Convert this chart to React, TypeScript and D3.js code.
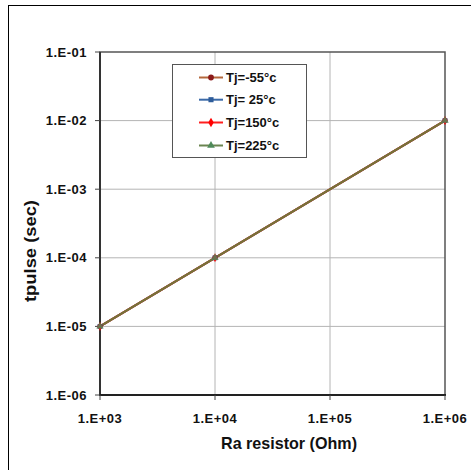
import React, { useRef, useEffect } from 'react';
import * as d3 from 'd3';

const resistance = [1e3, 1e4, 1e6];
const seriesNames = ['Tj=-55°c', 'Tj= 25°c', 'Tj=150°c', 'Tj=225°c'];
const tpulseM55 = [1e-5, 1e-4, 1e-2];
const tpulse25 = [1e-5, 1e-4, 1e-2];
const tpulse150 = [1e-5, 1e-4, 1e-2];
const tpulse225 = [1e-5, 1e-4, 1e-2];
const xTicks = [1e3, 1e4, 1e5, 1e6];
const xTickLabels = ['1.E+03', '1.E+04', '1.E+05', '1.E+06'];
const yTicks = [1e-6, 1e-5, 1e-4, 1e-3, 1e-2, 1e-1];
const yTickLabels = ['1.E-06', '1.E-05', '1.E-04', '1.E-03', '1.E-02', '1.E-01'];

const W = 471;
const H = 470;

const App: React.FC = () => {
  const svgRef = useRef<SVGSVGElement>(null);

  useEffect(() => {
    if (!svgRef.current) return;
    const svg = d3.select(svgRef.current);
    svg.selectAll('*').remove();

    const font = '"Liberation Sans", Arial, sans-serif';
    const left = 100, right = 445, top = 52, bottom = 395;

    // outer chart frame (runs off the right/bottom edge)
    svg.append('rect')
      .attr('x', 8.5).attr('y', 5.5)
      .attr('width', W).attr('height', H)
      .attr('fill', '#fff').attr('stroke', '#000').attr('stroke-width', 1);

    const x = d3.scaleLog().domain([1e3, 1e6]).range([left, right]);
    const y = d3.scaleLog().domain([1e-6, 1e-1]).range([bottom, top]);

    // gridlines
    svg.append('g').selectAll('line.hg')
      .data(yTicks.slice(1, -1))
      .enter().append('line')
      .attr('x1', left).attr('x2', right)
      .attr('y1', d => y(d)).attr('y2', d => y(d))
      .attr('stroke', '#b4b4b4').attr('stroke-width', 1);
    svg.append('g').selectAll('line.vg')
      .data(xTicks.slice(1, -1))
      .enter().append('line')
      .attr('y1', top).attr('y2', bottom)
      .attr('x1', d => x(d)).attr('x2', d => x(d))
      .attr('stroke', '#b4b4b4').attr('stroke-width', 1);

    // plot area border
    svg.append('rect')
      .attr('x', left).attr('y', top)
      .attr('width', right - left).attr('height', bottom - top)
      .attr('fill', 'none').attr('stroke', '#555').attr('stroke-width', 1.5);
    svg.append('line')
      .attr('x1', left).attr('x2', left).attr('y1', top).attr('y2', bottom + 1)
      .attr('stroke', '#333').attr('stroke-width', 2);
    svg.append('line')
      .attr('x1', left - 1).attr('x2', right + 1).attr('y1', bottom).attr('y2', bottom)
      .attr('stroke', '#222').attr('stroke-width', 2);

    // y axis ticks + labels
    const yAxis = svg.append('g');
    yTicks.forEach((t, i) => {
      yAxis.append('line')
        .attr('x1', left - 5).attr('x2', left)
        .attr('y1', y(t)).attr('y2', y(t))
        .attr('stroke', '#444').attr('stroke-width', 1);
      yAxis.append('text')
        .attr('x', 87).attr('y', y(t))
        .attr('dy', '0.35em')
        .attr('text-anchor', 'end')
        .style('font-family', font).style('font-size', '13px').style('font-weight', 'bold')
        .style('letter-spacing', '0.5px')
        .attr('fill', '#111')
        .text(yTickLabels[i]);
    });

    // x axis ticks + labels
    const xAxis = svg.append('g');
    xTicks.forEach((t, i) => {
      xAxis.append('line')
        .attr('x1', x(t)).attr('x2', x(t))
        .attr('y1', bottom).attr('y2', bottom + 5)
        .attr('stroke', '#444').attr('stroke-width', 1);
      xAxis.append('text')
        .attr('x', x(t)).attr('y', 418)
        .attr('dy', '0.35em')
        .attr('text-anchor', 'middle')
        .style('font-family', font).style('font-size', '13px').style('font-weight', 'bold')
        .style('letter-spacing', '0.5px')
        .attr('fill', '#111')
        .text(xTickLabels[i]);
    });

    // axis titles
    svg.append('text')
      .attr('x', 289).attr('y', 443).attr('dy', '0.35em')
      .attr('text-anchor', 'middle')
      .attr('textLength', 136).attr('lengthAdjust', 'spacingAndGlyphs')
      .style('font-family', font).style('font-size', '17px').style('font-weight', 'bold')
      .attr('fill', '#111')
      .text('Ra resistor (Ohm)');
    svg.append('text')
      .attr('transform', 'translate(30,251) rotate(-90)')
      .attr('dy', '0.35em')
      .attr('text-anchor', 'middle')
      .attr('textLength', 102).attr('lengthAdjust', 'spacingAndGlyphs')
      .style('font-family', font).style('font-size', '17px').style('font-weight', 'bold')
      .attr('fill', '#111')
      .text('tpulse (sec)');

    const series = [
      { name: seriesNames[0], values: tpulseM55, line: '#b4683c', mark: '#8b1a1a', symbol: d3.symbolCircle },
      { name: seriesNames[1], values: tpulse25, line: '#3b6aa8', mark: '#2e5c9a', symbol: d3.symbolSquare },
      { name: seriesNames[2], values: tpulse150, line: '#ff2020', mark: '#ff0000', symbol: d3.symbolDiamond },
      { name: seriesNames[3], values: tpulse225, line: '#737538', mark: '#4f8a5a', symbol: d3.symbolTriangle },
    ];

    const lineGen = d3.line<number>()
      .x((_, i) => x(resistance[i]))
      .y(d => y(d));

    series.forEach(s => {
      svg.append('path')
        .datum(s.values)
        .attr('d', lineGen)
        .attr('fill', 'none')
        .attr('stroke', s.line)
        .attr('stroke-width', 2);
    });
    series.forEach(s => {
      svg.append('g').selectAll('path')
        .data(s.values)
        .enter().append('path')
        .attr('d', d3.symbol().type(s.symbol).size(24))
        .attr('transform', (d, i) => `translate(${x(resistance[i])},${y(d)})`)
        .attr('fill', s.mark)
        .attr('opacity', 0.8);
    });

    // legend
    const lg = svg.append('g');
    lg.append('rect')
      .attr('x', 172.5).attr('y', 64.5)
      .attr('width', 134).attr('height', 93)
      .attr('fill', '#fff').attr('stroke', '#555').attr('stroke-width', 1);
    const legendY = [77.5, 99.7, 122.5, 145.5];
    series.forEach((s, i) => {
      const ly = legendY[i];
      lg.append('line')
        .attr('x1', 199).attr('x2', 223)
        .attr('y1', ly).attr('y2', ly)
        .attr('stroke', i === 3 ? '#6b8550' : s.line).attr('stroke-width', 2);
      lg.append('path')
        .attr('d', d3.symbol().type(s.symbol).size(26))
        .attr('transform', `translate(211,${ly})`)
        .attr('fill', s.mark);
      lg.append('text')
        .attr('x', 226).attr('y', ly).attr('dy', '0.35em')
        .style('font-family', font).style('font-size', '13px').style('font-weight', 'bold')
        .attr('fill', '#111')
        .text(s.name);
    });
  }, []);

  return (
    <svg
      ref={svgRef}
      width={W}
      height={H}
      style={{ position: 'absolute', left: 0, top: 0, background: '#fff' }}
    />
  );
};

export default App;
